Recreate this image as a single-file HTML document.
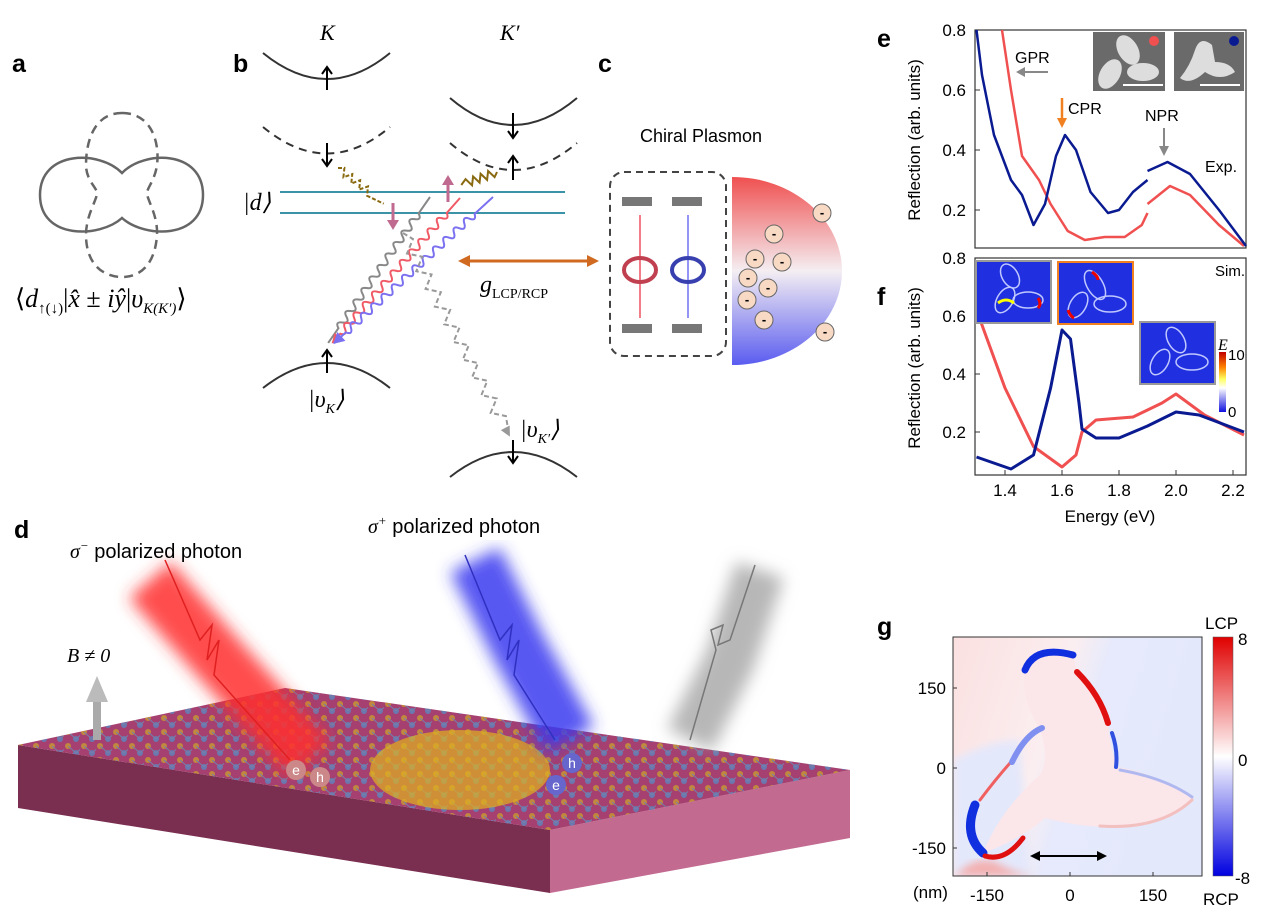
<!DOCTYPE html>
<html><head><meta charset="utf-8"><style>
body{margin:0;background:#fff}
svg{display:block;font-family:"Liberation Sans",sans-serif}
.ser{font-family:"Liberation Serif",serif;font-style:italic}
</style></head><body>
<svg width="1280" height="918" viewBox="0 0 1280 918">
<defs>
<linearGradient id="hc" x1="0" y1="0" x2="0" y2="1"><stop offset="0" stop-color="#f05050"/><stop offset="0.5" stop-color="#f4eef2"/><stop offset="1" stop-color="#5a5cf0"/></linearGradient>
<linearGradient id="cb" x1="0" y1="0" x2="0" y2="1"><stop offset="0" stop-color="#e00000"/><stop offset="0.5" stop-color="#ffffff"/><stop offset="1" stop-color="#0000e0"/></linearGradient>
<linearGradient id="ecb" x1="0" y1="0" x2="0" y2="1"><stop offset="0" stop-color="#c00000"/><stop offset="0.25" stop-color="#ff8000"/><stop offset="0.45" stop-color="#ffff60"/><stop offset="0.6" stop-color="#ffffff"/><stop offset="1" stop-color="#1010e0"/></linearGradient>
<linearGradient id="gbg" x1="0" y1="0" x2="1" y2="0.3"><stop offset="0" stop-color="#fbe0e0"/><stop offset="0.45" stop-color="#fbeef0"/><stop offset="0.6" stop-color="#e6eafc"/><stop offset="1" stop-color="#e4e8fb"/></linearGradient>
<filter id="bl"><feGaussianBlur stdDeviation="8"/></filter>
<filter id="bl2"><feGaussianBlur stdDeviation="4"/></filter>
<pattern id="atoms" width="16" height="14" patternUnits="userSpaceOnUse"><circle cx="4" cy="4" r="3" fill="#c99a30"/><circle cx="12" cy="11" r="3" fill="#5b86c0"/><path d="M4 4L12 11M12 11L20 4" stroke="#6a90b8" stroke-width="1"/></pattern>
</defs>

<!-- panel labels -->
<g font-weight="bold" font-size="25">
<text x="12" y="72">a</text><text x="233" y="72">b</text><text x="598" y="72">c</text>
<text x="877" y="47">e</text><text x="877" y="305">f</text><text x="14" y="538">d</text><text x="877" y="635">g</text>
</g>

<!-- panel a -->
<g fill="none" stroke="#666" stroke-width="2.5">
<path d="M122 173 C100 150 40 150 40 195 C40 240 100 238 122 218 C144 238 203 240 203 195 C203 150 144 150 122 173Z"/>
<path d="M122 113 C150 113 160 140 157 165 C155 180 147 188 147 193 C147 200 158 215 157 235 C155 265 140 277 122 277 C104 277 86 265 86 235 C86 215 97 200 97 193 C97 188 86 180 86 165 C86 140 95 113 122 113Z" stroke-dasharray="9,6"/>
</g>
<text x="15" y="307" font-family="Liberation Serif,serif" font-size="26">⟨<tspan font-style="italic">d</tspan><tspan font-size="15" dy="6">↑(↓)</tspan><tspan dy="-6">|</tspan><tspan font-style="italic">x̂</tspan> ± <tspan font-style="italic">iŷ</tspan>|<tspan font-style="italic">υ</tspan><tspan font-size="15" font-style="italic" dy="6">K(K′)</tspan><tspan dy="-6">⟩</tspan></text>

<!-- panel b -->
<g fill="none" stroke="#333" stroke-width="2">
<path d="M263 53 Q327 105 390 53"/>
<path d="M263 127 Q327 180 390 127" stroke-dasharray="8,6"/>
<path d="M450 98 Q513 152 577 98"/>
<path d="M450 143 Q513 197 577 143" stroke-dasharray="8,6"/>
<path d="M263 388 Q327 338 390 388"/>
<path d="M450 477 Q513 427 577 477"/>
</g>
<g stroke="#000" stroke-width="2" fill="none">
<path d="M327 90V68M322 74l5-7 5 7"/><path d="M327 143V165M322 159l5 7 5-7"/>
<path d="M513 113V137M508 131l5 7 5-7"/><path d="M513 180V157M508 163l5-7 5 7"/>
<path d="M327 373V351M322 357l5-7 5 7"/><path d="M513 440V462M508 456l5 7 5-7"/>
</g>
<text x="320" y="40" class="ser" font-size="22">K</text><text x="500" y="40" class="ser" font-size="22">K′</text>
<line x1="280" y1="192" x2="565" y2="192" stroke="#3a93a6" stroke-width="2"/>
<line x1="280" y1="213" x2="565" y2="213" stroke="#3a93a6" stroke-width="2"/>
<text x="243" y="210" class="ser" font-size="24">|d⟩</text>
<text x="308" y="407" class="ser" font-size="24">|υ<tspan font-size="14" dy="6">K</tspan><tspan dy="-6">⟩</tspan></text>
<text x="520" y="437" class="ser" font-size="24">|υ<tspan font-size="14" dy="6">K′</tspan><tspan dy="-6">⟩</tspan></text>
<g fill="none" stroke-width="2">
<g transform="translate(430 197) rotate(124.9)"><path stroke="#888" d="M0 0 L20 0 q3.5 -7 7 0 t7 0 t7 0 t7 0 t7 0 t7 0 t7 0 t7 0 t7 0 t7 0 t7 0 t7 0 t7 0 t7 0 t7 0 t7 0 t7 0 t7 0 t7 0 t7 0 L178 0"/></g>
<g transform="translate(460 198) rotate(131.4)"><path stroke="#f05a66" d="M0 0 L20 0 q3.5 -7 7 0 t7 0 t7 0 t7 0 t7 0 t7 0 t7 0 t7 0 t7 0 t7 0 t7 0 t7 0 t7 0 t7 0 t7 0 t7 0 t7 0 t7 0 t7 0 t7 0 t7 0 t7 0 t7 0 L193 0"/><polygon points="194,0 184,-5 184,5" fill="#f05a66" stroke="none"/></g>
<g transform="translate(493 197) rotate(137.4)"><path stroke="#7a70f0" d="M0 0 L25 0 q3.5 -7 7 0 t7 0 t7 0 t7 0 t7 0 t7 0 t7 0 t7 0 t7 0 t7 0 t7 0 t7 0 t7 0 t7 0 t7 0 t7 0 t7 0 t7 0 t7 0 t7 0 t7 0 t7 0 t7 0 t7 0 t7 0 L216 0"/><polygon points="217,0 206,-6 206,6" fill="#7a70f0" stroke="none"/></g>
<g transform="translate(403 233) rotate(62.3)"><path stroke="#999" stroke-dasharray="5,3" d="M0 0 l10 -6 10 12 10 -12 10 12 10 -12 10 12 10 -12 10 12 10 -12 10 12 10 -12 10 12 10 -12 10 12 10 -12 10 12 10 -12 10 12 10 -12 10 12 10 -12 L228 0"/><polygon points="230,0 220,-5 220,5" fill="#999" stroke="none"/></g>
<g transform="translate(338 168) rotate(38)"><path stroke="#8a6a10" stroke-dasharray="4,2" d="M0 0 l5 -4 5 8 5 -8 5 8 5 -8 5 8 5 -8 5 8 L58 0"/></g>
<g transform="translate(497 172) rotate(160)"><path stroke="#8a6a10" d="M0 0 l4 -4 4 8 4 -8 4 8 4 -8 4 8 4 -8 4 8 L38 0"/></g>
</g>
<g stroke="#c06a90" stroke-width="3" fill="#c06a90"><line x1="393" y1="203" x2="393" y2="222"/><polygon points="387,220 393,230 399,220" stroke="none"/>
<line x1="448" y1="202" x2="448" y2="183"/><polygon points="442,185 448,175 454,185" stroke="none"/></g>

<!-- coupling arrow -->
<line x1="465" y1="261" x2="592" y2="261" stroke="#d06a20" stroke-width="3"/>
<polygon points="458,261 470,255 470,267" fill="#d06a20"/><polygon points="599,261 587,255 587,267" fill="#d06a20"/>
<text x="480" y="292" class="ser" font-size="24">g<tspan font-size="14" font-style="normal" dy="6">LCP/RCP</tspan></text>

<!-- panel c -->
<text x="640" y="142" font-size="18">Chiral Plasmon</text>
<rect x="610" y="172" width="116" height="184" rx="14" fill="none" stroke="#444" stroke-width="2" stroke-dasharray="7,5"/>
<g fill="#777"><rect x="622" y="197" width="30" height="9"/><rect x="672" y="197" width="30" height="9"/><rect x="622" y="324" width="30" height="9"/><rect x="672" y="324" width="30" height="9"/></g>
<line x1="640" y1="215" x2="640" y2="318" stroke="#f05060" stroke-width="1.5"/><line x1="688" y1="215" x2="688" y2="318" stroke="#7070f0" stroke-width="1.5"/>
<ellipse cx="640" cy="270" rx="16" ry="12" fill="none" stroke="#c04050" stroke-width="4"/>
<ellipse cx="688" cy="270" rx="16" ry="12" fill="none" stroke="#3840b0" stroke-width="4"/>
<path d="M732 177 A110 94 0 0 1 732 365 Z" fill="url(#hc)"/>
<g fill="#f7d9c4" stroke="#666"><circle cx="822" cy="213" r="9"/><circle cx="774" cy="234" r="9"/><circle cx="755" cy="259" r="9"/><circle cx="748" cy="278" r="9"/><circle cx="768" cy="288" r="9"/><circle cx="747" cy="300" r="9"/><circle cx="764" cy="320" r="9"/><circle cx="825" cy="332" r="9"/><circle cx="782" cy="262" r="9"/></g>
<g font-size="13" font-weight="bold" text-anchor="middle"><text x="822" y="217">-</text><text x="774" y="238">-</text><text x="755" y="263">-</text><text x="748" y="282">-</text><text x="768" y="292">-</text><text x="747" y="304">-</text><text x="764" y="324">-</text><text x="825" y="336">-</text><text x="782" y="266">-</text></g>

<!-- panel d -->
<polygon points="18,745 18,808 550,893 550,830" fill="#7a2e50"/>
<polygon points="550,830 550,893 850,838 850,770" fill="#c26a90"/>
<polygon points="18,745 285,688 850,770 550,830" fill="#a54070"/>
<polygon points="18,745 285,688 850,770 550,830" fill="url(#atoms)" opacity=".8"/>
<ellipse cx="460" cy="770" rx="90" ry="40" fill="#e0b020" opacity=".7"/>
<g filter="url(#bl)">
<path d="M150 580 L220 660 L310 760" stroke="#ff3030" stroke-width="55" fill="none" opacity=".85"/>
<path d="M475 560 L520 650 L570 740" stroke="#3a3af0" stroke-width="55" fill="none" opacity=".85"/>
<path d="M760 570 L730 660 L690 740" stroke="#999" stroke-width="50" fill="none" opacity=".7"/>
</g>
<g fill="none" stroke-width="1.5">
<path d="M165 560 L200 640 l12 -15 -5 35 12 -20 -5 35 L290 760" stroke="#e02020"/>
<path d="M465 555 L500 640 l12 -15 -5 35 12 -20 -5 35 L555 740" stroke="#3030c0"/>
<path d="M755 565 L730 640 l-12 5 5 -20 -12 5 5 20 L690 740" stroke="#777"/>
</g>
<g font-size="14" fill="#fff" text-anchor="middle"><circle cx="296" cy="770" r="10" fill="#c88"/><text x="296" y="775">e</text><circle cx="320" cy="777" r="10" fill="#c88"/><text x="320" y="782">h</text>
<circle cx="572" cy="763" r="10" fill="#66c"/><text x="572" y="768">h</text><circle cx="556" cy="785" r="10" fill="#66c"/><text x="556" y="790">e</text></g>
<text x="70" y="558" class="ser" font-size="20">σ<tspan font-size="13" dy="-8">−</tspan><tspan font-style="normal" dy="8" font-family="Liberation Sans"> polarized photon</tspan></text>
<text x="368" y="533" class="ser" font-size="20">σ<tspan font-size="13" dy="-8">+</tspan><tspan font-style="normal" dy="8" font-family="Liberation Sans"> polarized photon</tspan></text>
<text x="67" y="662" class="ser" font-size="20">B ≠ 0</text>
<rect x="93" y="700" width="8" height="40" fill="#aaa"/><polygon points="86,702 97,676 108,702" fill="#bbb"/>

<!-- panel e -->
<rect x="975" y="30" width="271" height="218" fill="none" stroke="#333" stroke-width="1.2"/>
<g font-size="17" text-anchor="end"><text x="966" y="36">0.8</text><text x="966" y="96">0.6</text><text x="966" y="156">0.4</text><text x="966" y="216">0.2</text></g>
<g stroke="#333"><line x1="975" y1="90" x2="980" y2="90"/><line x1="975" y1="150" x2="980" y2="150"/><line x1="975" y1="210" x2="980" y2="210"/></g>
<text transform="translate(920 140) rotate(-90)" font-size="17" text-anchor="middle">Reflection (arb. units)</text>
<g fill="none" stroke-width="2.5" stroke-linejoin="round">
<polyline stroke="#f05050" points="1002,30 1011,90 1022,156 1039,180 1050.6,204 1067.7,231 1084.8,240 1104.75,237 1124.7,237 1141.8,225 1147.5,213"/>
<polyline stroke="#f05050" points="1147.5,204 1170,186 1190,195 1219,225 1244,246"/>
<polyline stroke="#0a1a90" points="976.5,30 982,75 994,135 1011,180 1022,195 1033.5,225 1045,204 1056,156 1065,135 1076,150 1090.5,192 1108,213 1119,210 1133,192 1147.5,180"/>
<polyline stroke="#0a1a90" points="1147.5,171 1167.5,162 1190,174 1219,210 1246,246"/>
</g>
<rect x="1093" y="32" width="72" height="59" fill="#6a6a6a"/><rect x="1174" y="32" width="70" height="59" fill="#6a6a6a"/>
<ellipse cx="1128" cy="50" rx="10" ry="16" fill="#ddd" transform="rotate(-30 1128 50)"/><ellipse cx="1110" cy="74" rx="10" ry="16" fill="#ddd" transform="rotate(30 1110 74)"/><ellipse cx="1143" cy="72" rx="16" ry="9" fill="#ddd"/>
<path d="M1195 50 Q1200 35 1212 45 L1215 62 Q1230 62 1235 72 Q1220 82 1205 72 Q1190 86 1180 78 Q1190 66 1195 50Z" fill="#ddd"/>
<circle cx="1154" cy="41" r="5" fill="#f05050"/><circle cx="1234" cy="41" r="5" fill="#0a1a90"/>
<line x1="1123" y1="85" x2="1163" y2="85" stroke="#fff" stroke-width="2"/><line x1="1200" y1="85" x2="1240" y2="85" stroke="#fff" stroke-width="2"/>
<text x="1015" y="63" font-size="16">GPR</text><line x1="1020" y1="72" x2="1048" y2="72" stroke="#888" stroke-width="2"/><polygon points="1016,72 1025,67 1025,77" fill="#888"/>
<text x="1068" y="114" font-size="16">CPR</text><line x1="1062" y1="98" x2="1062" y2="122" stroke="#f08020" stroke-width="2.5"/><polygon points="1062,128 1057,118 1067,118" fill="#f08020"/>
<text x="1145" y="121" font-size="16">NPR</text><line x1="1164" y1="128" x2="1164" y2="150" stroke="#888" stroke-width="2"/><polygon points="1164,156 1159,146 1169,146" fill="#888"/>
<text x="1205" y="172" font-size="16">Exp.</text>

<!-- panel f -->
<rect x="975" y="258" width="271" height="217" fill="none" stroke="#333" stroke-width="1.2"/>
<g font-size="17" text-anchor="end"><text x="966" y="264">0.8</text><text x="966" y="322">0.6</text><text x="966" y="380">0.4</text><text x="966" y="438">0.2</text></g>
<g stroke="#333"><line x1="975" y1="316" x2="980" y2="316"/><line x1="975" y1="374" x2="980" y2="374"/><line x1="975" y1="432" x2="980" y2="432"/>
<line x1="1005" y1="475" x2="1005" y2="470"/><line x1="1062" y1="475" x2="1062" y2="470"/><line x1="1119" y1="475" x2="1119" y2="470"/><line x1="1176" y1="475" x2="1176" y2="470"/><line x1="1233" y1="475" x2="1233" y2="470"/></g>
<text transform="translate(920 368) rotate(-90)" font-size="17" text-anchor="middle">Reflection (arb. units)</text>
<g font-size="17" text-anchor="middle"><text x="1005" y="496">1.4</text><text x="1062" y="496">1.6</text><text x="1119" y="496">1.8</text><text x="1176" y="496">2.0</text><text x="1233" y="496">2.2</text></g>
<text x="1110" y="522" font-size="17" text-anchor="middle">Energy (eV)</text>
<g fill="none" stroke-width="3" stroke-linejoin="round">
<polyline stroke="#f05050" points="976.5,310 1005,388 1033.5,446.5 1062,467 1076,455 1082,432 1096,420 1133,417 1162,403 1176,394 1204.5,415 1244,435"/>
<polyline stroke="#0a1a90" points="976.5,457 1011,469 1033.5,455 1050.6,388 1062,330 1070.5,339 1079,403 1082,429 1096,438 1119,438 1147.5,426 1176,412 1199,415 1244,432"/>
</g>
<rect x="976" y="261" width="75" height="62" fill="#2030e0" stroke="#999" stroke-width="2"/>
<rect x="1058" y="262" width="75" height="62" fill="#2030e0" stroke="#f08020" stroke-width="2"/>
<rect x="1140" y="322" width="75" height="62" fill="#2030e0" stroke="#999" stroke-width="2"/>
<g fill="none" stroke="#c0c8ff" stroke-width="1.5"><ellipse cx="1005" cy="300" rx="8" ry="14" transform="rotate(30 1005 300)"/><ellipse cx="1028" cy="300" rx="15" ry="8"/><ellipse cx="1010" cy="276" rx="8" ry="13" transform="rotate(-30 1010 276)"/>
<ellipse cx="1095" cy="285" rx="8" ry="16" transform="rotate(-30 1095 285)"/><ellipse cx="1078" cy="305" rx="8" ry="14" transform="rotate(30 1078 305)"/><ellipse cx="1110" cy="304" rx="16" ry="8"/>
<ellipse cx="1176" cy="340" rx="8" ry="14" transform="rotate(-30 1176 340)"/><ellipse cx="1160" cy="362" rx="8" ry="14" transform="rotate(30 1160 362)"/><ellipse cx="1192" cy="362" rx="16" ry="8"/></g>
<g fill="none"><path d="M998 303 q8 -6 16 0" stroke="#ff0" stroke-width="3"/><path d="M1038 298 q4 6 0 10" stroke="#e00" stroke-width="3"/><path d="M1092 272 q6 4 6 8" stroke="#e00" stroke-width="3"/><path d="M1068 310 q2 6 6 8" stroke="#e00" stroke-width="3"/></g>
<text x="1215" y="276" font-size="15">Sim.</text>
<rect x="1219" y="352" width="7" height="60" fill="url(#ecb)"/>
<text x="1218" y="350" class="ser" font-size="16">E</text><text x="1228" y="360" font-size="15">10</text><text x="1228" y="417" font-size="15">0</text>

<!-- panel g -->
<svg x="953" y="637" width="249" height="239" viewBox="953 637 249 239" overflow="hidden">
<rect x="953" y="637" width="249" height="239" fill="url(#gbg)"/>
<path d="M953 760 Q990 740 1020 740 L1030 876 L953 876Z" fill="#e4e8fb" filter="url(#bl2)"/>
<path d="M955 876 Q975 855 995 862 Q1020 876 1040 876Z" fill="#f3b0b0" filter="url(#bl2)"/>
<path d="M983 853 Q1000 810 1040 775 Q1050 760 1040 728 Q1020 700 1025 665 Q1040 645 1073 655 L1077 672 Q1100 700 1108 723 Q1110 750 1118 767 Q1160 775 1193 798 Q1170 830 1100 827 Q1070 825 1045 818 Q1020 840 983 853Z" fill="#fbe6ea"/>
</svg>
<g fill="none" stroke-linecap="round">
<path d="M1025 670 Q1035 645 1073 655" stroke="#1030e0" stroke-width="7"/>
<path d="M1077 672 Q1100 695 1108 723" stroke="#e01010" stroke-width="6"/>
<path d="M1112 733 Q1118 750 1116 767" stroke="#3050e0" stroke-width="4"/>
<path d="M1120 770 Q1165 778 1192 797" stroke="#b0b8f0" stroke-width="3"/>
<path d="M1100 826 Q1160 830 1192 800" stroke="#f3c0c0" stroke-width="3"/>
<path d="M975 805 Q963 835 983 853" stroke="#1030e0" stroke-width="9"/>
<path d="M985 856 Q1005 862 1023 838" stroke="#e01010" stroke-width="5"/>
<path d="M980 800 Q995 780 1010 763" stroke="#f06060" stroke-width="3"/>
<path d="M1012 762 Q1025 735 1042 728" stroke="#8090f0" stroke-width="6"/>
</g>
<rect x="953" y="637" width="249" height="239" fill="none" stroke="#333" stroke-width="1"/>
<g stroke="#333"><line x1="953" y1="688" x2="957" y2="688"/><line x1="953" y1="768" x2="957" y2="768"/><line x1="953" y1="848" x2="957" y2="848"/>
<line x1="987" y1="876" x2="987" y2="872"/><line x1="1070" y1="876" x2="1070" y2="872"/><line x1="1153" y1="876" x2="1153" y2="872"/></g>
<line x1="1036" y1="856" x2="1100" y2="856" stroke="#000" stroke-width="2"/>
<polygon points="1030,856 1040,851 1040,861"/><polygon points="1107,856 1097,851 1097,861"/>
<g font-size="17" text-anchor="end"><text x="946" y="694">150</text><text x="946" y="774">0</text><text x="946" y="854">-150</text></g>
<g font-size="17" text-anchor="middle"><text x="987" y="901">-150</text><text x="1070" y="901">0</text><text x="1153" y="901">150</text></g>
<text x="913" y="898" font-size="17">(nm)</text>
<rect x="1213" y="637" width="20" height="239" fill="url(#cb)" stroke="#555" stroke-width=".5"/>
<g font-size="17"><text x="1238" y="645">8</text><text x="1238" y="766">0</text><text x="1235" y="884">-8</text><text x="1205" y="629">LCP</text><text x="1203" y="905">RCP</text></g>
</svg>
</body></html>
